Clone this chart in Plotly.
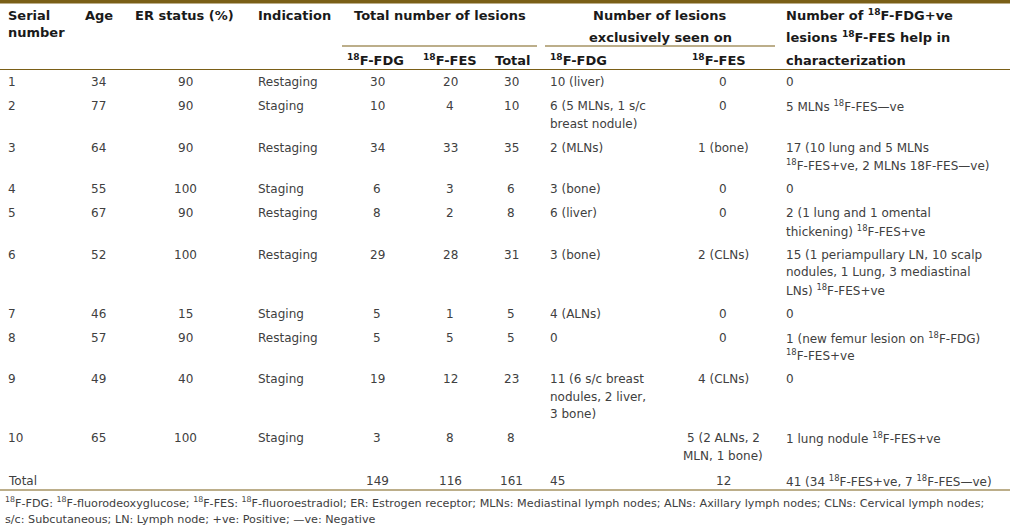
import plotly.graph_objects as go

serial = ["1", "2", "3", "4", "5", "6", "7", "8", "9", "10"]
age = [34, 77, 64, 55, 67, 52, 46, 57, 49, 65]
er_status = [90, 90, 90, 100, 90, 100, 15, 90, 40, 100]
indication = ["Restaging", "Staging", "Restaging", "Staging", "Restaging",
              "Restaging", "Staging", "Restaging", "Staging", "Staging"]
lesions_fdg = [30, 10, 34, 6, 8, 29, 5, 5, 19, 3]
lesions_fes = [20, 4, 33, 3, 2, 28, 1, 5, 12, 8]
lesions_total = [30, 10, 35, 6, 8, 31, 5, 5, 23, 8]
only_fdg = [
    ["10 (liver)"],
    ["6 (5 MLNs, 1 s/c", "breast nodule)"],
    ["2 (MLNs)"],
    ["3 (bone)"],
    ["6 (liver)"],
    ["3 (bone)"],
    ["4 (ALNs)"],
    ["0"],
    ["11 (6 s/c breast", "nodules, 2 liver,", "3 bone)"],
    [""],
]
only_fes = [
    ["0"], ["0"], ["1 (bone)"], ["0"], ["0"], ["2 (CLNs)"], ["0"], ["0"],
    ["4 (CLNs)"], ["5 (2 ALNs, 2", "MLN, 1 bone)"],
]
characterization = [
    ["0"],
    ["5 MLNs <sup>18</sup>F-FES\u2014ve"],
    ["17 (10 lung and 5 MLNs", "<sup>18</sup>F-FES+ve, 2 MLNs 18F-FES\u2014ve)"],
    ["0"],
    ["2 (1 lung and 1 omental", "thickening) <sup>18</sup>F-FES+ve"],
    ["15 (1 periampullary LN, 10 scalp", "nodules, 1 Lung, 3 mediastinal",
     "LNs) <sup>18</sup>F-FES+ve"],
    ["0"],
    ["1 (new femur lesion on <sup>18</sup>F-FDG)", "<sup>18</sup>F-FES+ve"],
    ["0"],
    ["1 lung nodule <sup>18</sup>F-FES+ve"],
]
total_label = "Total"
total_fdg = 149
total_fes = 116
total_all = 161
total_only_fdg = "45"
total_only_fes = "12"
total_char = "41 (34 <sup>18</sup>F-FES+ve, 7 <sup>18</sup>F-FES\u2014ve)"

footnotes = [
    "<sup>18</sup>F-FDG: <sup>18</sup>F-fluorodeoxyglucose; <sup>18</sup>F-FES: "
    "<sup>18</sup>F-fluoroestradiol; ER: Estrogen receptor; MLNs: Mediastinal lymph nodes; "
    "ALNs: Axillary lymph nodes; CLNs: Cervical lymph nodes;",
    "s/c: Subcutaneous; LN: Lymph node; +ve: Positive; \u2014ve: Negative",
]

# ---------------- layout / style ----------------
W, H = 1010, 527
FONT = "DejaVu Sans"
BODY = dict(family=FONT, size=12, color="#404040")
HEAD = dict(family=FONT, size=13, color="#1a1a1a")
NOTE = dict(family=FONT, size=11.2, color="#404040")
RULE = "#7a5f17"

# column anchors: (x, xanchor)
C_SERIAL = (6, "left")
C_AGE = (98, "center")
C_ER = (185, "center")
C_IND = (256, "left")
C_FDG = (377, "center")
C_FES = (450, "center")
C_TOT = (511, "center")
C_OFDG = (548, "left")
C_OFES = (723, "center")
C_CHAR = (784, "left")

LINE = 17.5     # line pitch inside a cell
ROW_GAP = 24.0  # distance from last line of a row to first line of next
FIRST_ROW_Y = 82

fig = go.Figure()
fig.add_trace(go.Scatter(x=[0, W], y=[0, H], mode="markers",
                         marker=dict(opacity=0), hoverinfo="skip"))
fig.update_xaxes(range=[0, W], visible=False, fixedrange=True)
fig.update_yaxes(range=[H, 0], visible=False, fixedrange=True)

ann = []


def put(col, y, text, font, bold=False):
    x, anchor = col
    if bold:
        text = "<b>" + text + "</b>"
    ann.append(dict(x=x, y=y, xref="x", yref="y", text=text, showarrow=False,
                    xanchor=anchor, yanchor="middle", font=font))


def put_lines(col, y, lines, font, bold=False):
    for i, t in enumerate(lines):
        if t:
            put(col, y + i * LINE, t, font, bold)


# header
HY = [15, 37, 60]
put_lines(C_SERIAL, HY[0], ["Serial", "number"], HEAD, True)
put((99, "center"), HY[0], "Age", HEAD, True)
put((184, "center"), HY[0], "ER status (%)", HEAD, True)
put(C_IND, HY[0], "Indication", HEAD, True)
put((440, "center"), HY[0], "Total number of lesions", HEAD, True)
put((660, "center"), HY[0], "Number of lesions", HEAD, True)
put((660, "center"), HY[1], "exclusively seen on", HEAD, True)
put(C_CHAR, HY[0], "Number of <sup>18</sup>F-FDG+ve", HEAD, True)
put(C_CHAR, HY[1], "lesions <sup>18</sup>F-FES help in", HEAD, True)
put(C_CHAR, HY[2], "characterization", HEAD, True)
put((375, "center"), HY[2], "<sup>18</sup>F-FDG", HEAD, True)
put(C_FES, HY[2], "<sup>18</sup>F-FES", HEAD, True)
put((513, "center"), HY[2], "Total", HEAD, True)
put(C_OFDG, HY[2], "<sup>18</sup>F-FDG", HEAD, True)
put((748, "right"), HY[2], "<sup>18</sup>F-FES", HEAD, True)

# body rows
y = FIRST_ROW_Y
for i in range(len(serial)):
    put(C_SERIAL, y, serial[i], BODY)
    put(C_AGE, y, str(age[i]), BODY)
    put(C_ER, y, str(er_status[i]), BODY)
    put(C_IND, y, indication[i], BODY)
    put(C_FDG, y, str(lesions_fdg[i]), BODY)
    put(C_FES, y, str(lesions_fes[i]), BODY)
    put(C_TOT, y, str(lesions_total[i]), BODY)
    put_lines(C_OFDG, y, only_fdg[i], BODY)
    put_lines(C_OFES, y, only_fes[i], BODY)
    put_lines(C_CHAR, y, characterization[i], BODY)
    n = max(len(only_fdg[i]), len(only_fes[i]), len(characterization[i]))
    y += (n - 1) * LINE + ROW_GAP

# totals row
y += 1
put(C_SERIAL, y, total_label, BODY)
put(C_FDG, y, str(total_fdg), BODY)
put(C_FES, y, str(total_fes), BODY)
put(C_TOT, y, str(total_all), BODY)
put(C_OFDG, y, total_only_fdg, BODY)
put(C_OFES, y, total_only_fes, BODY)
put(C_CHAR, y, total_char, BODY)

# footnotes
for k, t in enumerate(footnotes):
    ann.append(dict(x=3, y=502 + k * 17, xref="x", yref="y", text=t,
                    showarrow=False, xanchor="left", yanchor="middle", font=NOTE))

shapes = [
    dict(type="rect", xref="x", yref="y", x0=0, x1=W, y0=0, y1=3.5,
         fillcolor=RULE, line=dict(width=0)),
    dict(type="line", xref="x", yref="y", x0=342, x1=537, y0=46, y1=46,
         line=dict(color=RULE, width=1.2)),
    dict(type="line", xref="x", yref="y", x0=545, x1=775, y0=46, y1=46,
         line=dict(color=RULE, width=1.2)),
    dict(type="line", xref="x", yref="y", x0=0, x1=W, y0=69.5, y1=69.5,
         line=dict(color=RULE, width=1.2)),
    dict(type="line", xref="x", yref="y", x0=0, x1=W, y0=490, y1=490,
         line=dict(color=RULE, width=1.2)),
]

fig.update_layout(width=W, height=H, margin=dict(l=0, r=0, t=0, b=0),
                  plot_bgcolor="white", paper_bgcolor="white",
                  showlegend=False, annotations=ann, shapes=shapes)

fig.write_html("out.html", config={"displayModeBar": False},
               post_script="document.body.style.margin='0';"
                           "document.body.style.overflow='hidden';")
